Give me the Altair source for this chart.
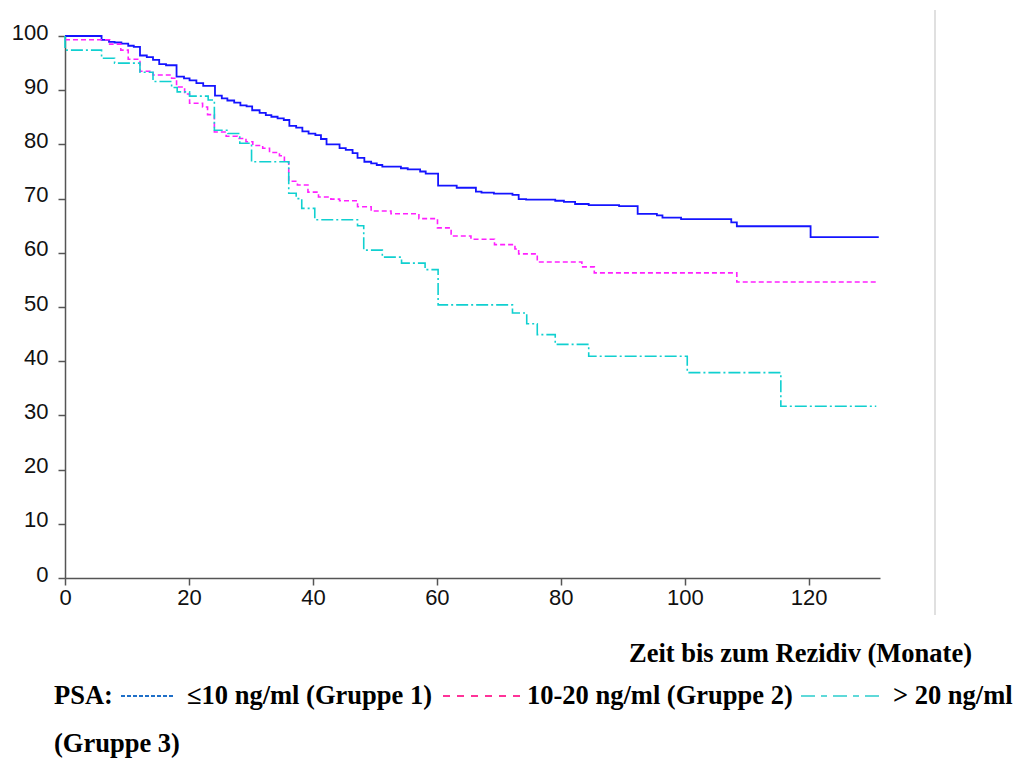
import altair as alt
import pandas as pd

# ---- data (Kaplan-Meier step curves) ----
g1_t = [0, 5.9, 7.1, 8.0, 9.1, 10.2, 11.1, 12.1, 13.2, 14.2, 15.2, 16.3, 18.0, 19.2, 20.1, 21.2, 22.3,
        24.2, 25.3, 26.2, 27.3, 28.3, 29.3, 30.2, 31.4, 32.4, 33.3, 34.3, 35.3, 36.2, 37.3, 38.3, 39.3,
        40.4, 41.3, 42.2, 44.3, 45.3, 46.4, 47.2, 48.3, 49.4, 50.3, 51.2, 54.2, 55.3, 57.3, 58.2,
        60.2, 63.2, 66.3, 67.2, 69.2, 72.2, 73.2, 74.4, 79.1, 80.5, 82.3, 84.5, 89.4, 92.4, 95.5, 96.4,
        99.4, 107.5, 108.4, 120.3, 131.3]
g1_s = [100, 99.3, 98.9, 98.8, 98.6, 98.2, 98.0, 96.4, 96.1, 95.6, 94.8, 94.6, 92.5, 92.2, 91.8, 91.3, 90.8,
        89.0, 88.5, 88.1, 87.7, 87.2, 87.0, 86.3, 85.8, 85.4, 85.1, 84.8, 84.5, 83.4, 83.1, 82.4, 82.0,
        81.7, 81.0, 80.0, 79.3, 79.0, 78.4, 77.5, 76.8, 76.5, 76.2, 75.9, 75.6, 75.4, 75.0, 74.6,
        72.4, 72.0, 71.3, 71.1, 70.9, 70.7, 69.9, 69.8, 69.6, 69.4, 69.0, 68.8, 68.6, 67.2, 66.9, 66.5,
        66.2, 65.6, 64.9, 62.9, 62.9]

g2_t = [0, 7.2, 9.0, 10.2, 12.1, 14.2, 17.2, 18.0, 19.3, 20.1, 22.2, 23.0, 24.1, 26.0, 27.8, 29.2, 30.3,
        31.9, 33.0, 34.6, 35.4, 36.1, 37.5, 39.2, 40.9, 42.9, 44.3, 47.2, 49.4, 52.6, 57.1, 60.1, 62.3,
        65.5, 69.3, 72.6, 73.2, 76.2, 83.4, 85.4, 108.4, 131.3]
g2_s = [99.3, 98.5, 97.4, 95.7, 93.5, 92.8, 92.2, 90.6, 89.3, 87.6, 86.9, 85.5, 82.3, 81.5, 81.1, 80.5, 79.8,
        79.3, 78.5, 77.9, 76.8, 73.2, 72.5, 71.2, 70.3, 69.9, 69.6, 68.5, 67.7, 67.2, 66.3, 64.6, 63.1,
        62.5, 61.5, 60.7, 59.8, 58.3, 57.4, 56.3, 54.6, 54.6]

g3_t = [0, 0, 5.9, 8.0, 12.1, 14.2, 17.2, 18.1, 20.1, 23.1, 24.1, 26.3, 28.2, 30.1, 36.1, 37.3, 38.2,
        40.3, 47.2, 48.2, 51.2, 54.3, 58.1, 60.2, 72.2, 74.5, 76.2, 79.1, 84.5, 100.4, 115.5, 130.9]
g3_s = [100, 97.4, 95.9, 95.0, 93.3, 91.6, 90.5, 89.7, 88.9, 88.2, 82.6, 82.0, 80.2, 76.8, 71.0, 70.0, 68.2,
        66.1, 65.0, 60.5, 59.2, 58.1, 56.9, 50.4, 48.9, 46.9, 44.9, 43.1, 40.9, 37.9, 31.7, 31.7]

x_ticks = [0, 20, 40, 60, 80, 100, 120]
y_ticks = [0, 10, 20, 30, 40, 50, 60, 70, 80, 90, 100]

x_title = "Zeit bis zum Rezidiv (Monate)"
legend_parts = ["PSA:", "\u226410 ng/ml (Gruppe 1)", "10-20 ng/ml (Gruppe 2)", "> 20 ng/ml", "(Gruppe 3)"]

W, H = 815, 542

xs = alt.Scale(domain=[0, 131.5], nice=False, zero=False)
ys = alt.Scale(domain=[0, 100], nice=False)

xaxis = alt.Axis(values=x_ticks, title=None, grid=False, tickSize=7, labelPadding=2,
                 labelFontSize=22, labelFont="Liberation Sans", labelColor="#111111",
                 domainColor="#555555", tickColor="#555555", domainWidth=1.5, tickWidth=1.5,
                 labelFlush=False)
yaxis = alt.Axis(values=y_ticks, title=None, grid=False, tickSize=7, labelPadding=10,
                 labelFontSize=22, labelFont="Liberation Sans", labelColor="#111111",
                 domainColor="#555555", tickColor="#555555", domainWidth=1.5, tickWidth=1.5,
                 labelFlush=False, labelOffset=-4)


def curve(t, s, color, dash, width):
    df = pd.DataFrame({"t": t, "s": s})
    mk = alt.Chart(df).mark_line(interpolate="step-after", color=color, strokeWidth=width,
                                 **({"strokeDash": dash} if dash else {}))
    return mk.encode(
        x=alt.X("t:Q", scale=xs, axis=xaxis),
        y=alt.Y("s:Q", scale=ys, axis=yaxis),
    )


c1 = curve(g1_t, g1_s, "#1414ff", None, 1.8)
c2 = curve(g2_t, g2_s, "#ff20ff", [5, 3], 1.6)
c3 = curve(g3_t, g3_s, "#10d0d0", [12, 3, 2, 3], 1.6)

one = pd.DataFrame({"k": [0]})


def txt(label, x, y, align="left"):
    return alt.Chart(one).mark_text(
        align=align, baseline="alphabetic", font="Liberation Serif", fontWeight="bold",
        fontSize=26.5, color="#000000"
    ).encode(x=alt.value(x), y=alt.value(y), text=alt.value(label))


def seg(x1, x2, y, color, dash, width=2):
    return alt.Chart(one).mark_rule(color=color, strokeDash=dash, strokeWidth=width).encode(
        x=alt.value(x1), x2=alt.value(x2), y=alt.value(y))


# pixel offsets are relative to the plot origin (65, 36)
border = alt.Chart(one).mark_rule(color="#d6d6d6", strokeWidth=1.5).encode(
    x=alt.value(870), y=alt.value(-26), y2=alt.value(579))

texts = (
    txt(x_title, 907, 626, align="right")
    + txt(legend_parts[0], -11, 668)
    + seg(56, 108, 660, "#1f6fc8", [4, 2])
    + txt(legend_parts[1], 122, 668)
    + seg(378, 455, 660, "#ff3399", [7, 7])
    + txt(legend_parts[2], 462, 668)
    + seg(736, 815, 660, "#5fd9d9", [14, 6, 6, 6])
    + txt(legend_parts[3], 828, 668)
    + txt(legend_parts[4], -11, 716)
)

chart = alt.layer(c1, c2, c3, border, texts).properties(
    width=W, height=H,
    autosize=alt.AutoSizeParams(type="none"),
    padding={"left": 65, "top": 36, "right": 1018 - 65 - W, "bottom": 758 - 36 - H},
    background="white",
).configure_view(strokeWidth=0)

chart.save("out.html", embed_options={"renderer": "svg", "actions": False})
